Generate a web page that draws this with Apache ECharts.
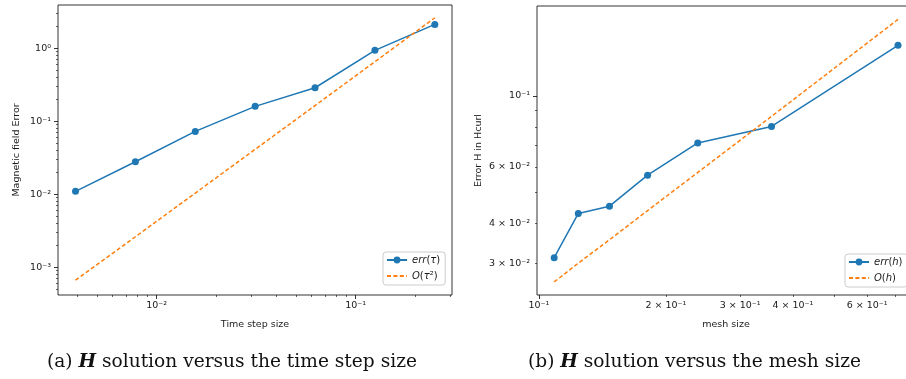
<!DOCTYPE html>
<html>
<head>
<meta charset="utf-8">
<script src="https://cdn.jsdelivr.net/npm/echarts@6/dist/echarts.min.js"></script>
<style>
html, body { margin: 0; padding: 0; overflow: hidden; background: #fff; }
#main { width: 920px; height: 379px; }
</style>
</head>
<body>
<div id="main"></div>
<script>
// (a) error against time step size
var tau_list     = [0.00390625, 0.0078125, 0.015625, 0.03125, 0.0625, 0.125, 0.25];
var err_tau_list = [0.0109, 0.0277, 0.0721, 0.159, 0.286, 0.93, 2.11];
var ref_tau_list = [0.00066, 0.0026, 0.0103, 0.041, 0.163, 0.65, 2.6];

// (b) error against mesh size
var h_list     = [0.1087, 0.124, 0.147, 0.181, 0.238, 0.356, 0.71];
var err_h_list = [0.0313, 0.0430, 0.0453, 0.0566, 0.0713, 0.0803, 0.1437];
var ref_h_list = [0.0263, 0.0301, 0.0356, 0.0439, 0.0577, 0.0863, 0.173];

// tick values / labels
var a_x_major  = [0.01, 0.1];
var a_x_labels = ['10⁻²', '10⁻¹'];
var a_x_minor  = [0.004, 0.005, 0.006, 0.007, 0.008, 0.009, 0.02, 0.03, 0.04, 0.05, 0.06, 0.07, 0.08, 0.09, 0.2, 0.3];
var a_y_major  = [0.001, 0.01, 0.1, 1];
var a_y_labels = ['10⁻³', '10⁻²', '10⁻¹', '10⁰'];
var a_y_minor  = [0.0005, 0.0006, 0.0007, 0.0008, 0.0009, 0.002, 0.003, 0.004, 0.005, 0.006, 0.007, 0.008, 0.009,
                  0.02, 0.03, 0.04, 0.05, 0.06, 0.07, 0.08, 0.09, 0.2, 0.3, 0.4, 0.5, 0.6, 0.7, 0.8, 0.9, 2, 3];

var b_x_major     = [0.1];
var b_x_label_val = [0.1, 0.2, 0.3, 0.4, 0.6];
var b_x_labels    = ['10⁻¹', '2 × 10⁻¹', '3 × 10⁻¹', '4 × 10⁻¹', '6 × 10⁻¹'];
var b_x_minor     = [0.2, 0.3, 0.4, 0.5, 0.6, 0.7];
var b_y_major     = [0.1];
var b_y_label_val = [0.03, 0.04, 0.06, 0.1];
var b_y_labels    = ['3 × 10⁻²', '4 × 10⁻²', '6 × 10⁻²', '10⁻¹'];
var b_y_minor     = [0.03, 0.04, 0.05, 0.06, 0.07, 0.08, 0.09];

var C0 = '#1f77b4', C1 = '#ff7f0e';
var FONT = 'DejaVu Sans';
var TXT = '#1a1a1a';

function zip(xs, ys) {
    return xs.map(function (x, i) { return [x, ys[i]]; });
}
function label_of(vals, labels) {
    return function (v) {
        for (var i = 0; i < vals.length; i++) {
            if (Math.abs(Math.log10(v) - Math.log10(vals[i])) < 1e-6) return labels[i];
        }
        return '';
    };
}

function major_axis(grid, pos, min, max, ticks, label_vals, labels, name, gap) {
    return {
        type: 'log', gridIndex: grid, position: pos, min: min, max: max, logBase: 10,
        name: name, nameLocation: 'middle', nameGap: gap,
        nameTextStyle: { fontFamily: FONT, fontSize: 9.5, color: TXT },
        axisLine: { show: false },
        axisTick: { show: true, length: 4, customValues: ticks, lineStyle: { color: '#000', width: 0.8 } },
        axisLabel: {
            show: true, customValues: label_vals, formatter: label_of(label_vals, labels),
            fontFamily: FONT, fontSize: 9.5, color: TXT, margin: (pos === 'left') ? 7 : 6
        },
        splitLine: { show: false }, minorTick: { show: false }, minorSplitLine: { show: false }
    };
}
function minor_axis(grid, pos, min, max, ticks) {
    return {
        type: 'log', gridIndex: grid, position: pos, min: min, max: max, logBase: 10,
        axisLine: { show: false },
        axisTick: { show: true, length: 2, customValues: ticks, lineStyle: { color: '#000', width: 0.6 } },
        axisLabel: { show: false },
        splitLine: { show: false }
    };
}

var legend_rich = {
    i: { fontStyle: 'italic', fontFamily: FONT, fontSize: 10, color: TXT },
    n: { fontFamily: FONT, fontSize: 10, color: TXT }
};
var legend_text = {
    'err(τ)': '{i|err}{n|(}{i|τ}{n|)}',
    'O(τ²)': '{i|O}{n|(}{i|τ}{n|²)}',
    'err(h)': '{i|err}{n|(}{i|h}{n|)}',
    'O(h)': '{i|O}{n|(}{i|h}{n|)}'
};
function make_legend(names, left, top) {
    return {
        data: [
            { name: names[0] },
            { name: names[1], itemStyle: { opacity: 0 } }
        ],
        orient: 'vertical', left: left, top: top,
        itemWidth: 20, itemHeight: 8.5, itemGap: 6,
        padding: [3, 5, 4, 3],
        backgroundColor: 'rgba(255,255,255,0.8)', borderColor: '#cccccc', borderWidth: 1, borderRadius: 3,
        formatter: function (name) { return legend_text[name]; },
        textStyle: { fontFamily: FONT, fontSize: 10, color: TXT, rich: legend_rich }
    };
}

var caption_style = {
    fontFamily: 'DejaVu Serif', fontSize: 18.6, fontWeight: 'normal', color: '#111',
    rich: { h: { fontFamily: 'DejaVu Serif', fontSize: 18.6, fontWeight: 'bold', fontStyle: 'italic', color: '#111' } }
};

var myChart = echarts.init(document.getElementById('main'), null, { renderer: 'canvas' });
var option = {
    animation: false,
    backgroundColor: '#fff',
    title: [
        { text: '(a) {h|H} solution versus the time step size', left: 47, top: 353, textStyle: caption_style, padding: 0 },
        { text: '(b) {h|H} solution versus the mesh size', left: 528, top: 353, textStyle: caption_style, padding: 0 }
    ],
    grid: [
        { left: 58, top: 5, width: 394, height: 290, show: true, borderColor: '#000', borderWidth: 0.8, backgroundColor: 'transparent' },
        { left: 537, top: 6, width: 378, height: 289, show: true, borderColor: '#000', borderWidth: 0.8, backgroundColor: 'transparent' }
    ],
    xAxis: [
        major_axis(0, 'bottom', 0.00319, 0.305, a_x_major, a_x_major, a_x_labels, 'Time step size', 25),
        minor_axis(0, 'bottom', 0.00319, 0.305, a_x_minor),
        major_axis(1, 'bottom', 0.09897, 0.779, b_x_major, b_x_label_val, b_x_labels, 'mesh size', 25),
        minor_axis(1, 'bottom', 0.09897, 0.779, b_x_minor)
    ],
    yAxis: [
        major_axis(0, 'left', 0.000414, 3.89, a_y_major, a_y_major, a_y_labels, 'Magnetic field Error', 36),
        minor_axis(0, 'left', 0.000414, 3.89, a_y_minor),
        major_axis(1, 'left', 0.02395, 0.1905, b_y_major, b_y_label_val, b_y_labels, 'Error H in Hcurl', 53),
        minor_axis(1, 'left', 0.02395, 0.1905, b_y_minor)
    ],
    legend: [
        make_legend(['err(τ)', 'O(τ²)'], 383, 252),
        make_legend(['err(h)', 'O(h)'], 845, 254)
    ],
    series: [
        {
            name: 'err(τ)', type: 'line', xAxisIndex: 0, yAxisIndex: 0,
            data: zip(tau_list, err_tau_list),
            symbol: 'circle', symbolSize: 7, color: C0,
            lineStyle: { color: C0, width: 1.5 }, itemStyle: { color: C0 }
        },
        {
            name: 'O(τ²)', type: 'line', xAxisIndex: 0, yAxisIndex: 0,
            data: zip(tau_list, ref_tau_list),
            symbol: 'none', color: C1,
            lineStyle: { color: C1, width: 1.5, type: [4, 2.4] }
        },
        {
            name: 'err(h)', type: 'line', xAxisIndex: 2, yAxisIndex: 2,
            data: zip(h_list, err_h_list),
            symbol: 'circle', symbolSize: 7, color: C0,
            lineStyle: { color: C0, width: 1.5 }, itemStyle: { color: C0 }
        },
        {
            name: 'O(h)', type: 'line', xAxisIndex: 2, yAxisIndex: 2,
            data: zip(h_list, ref_h_list),
            symbol: 'none', color: C1,
            lineStyle: { color: C1, width: 1.5, type: [4, 2.4] }
        }
    ]
};
myChart.setOption(option);
</script>
</body>
</html>
